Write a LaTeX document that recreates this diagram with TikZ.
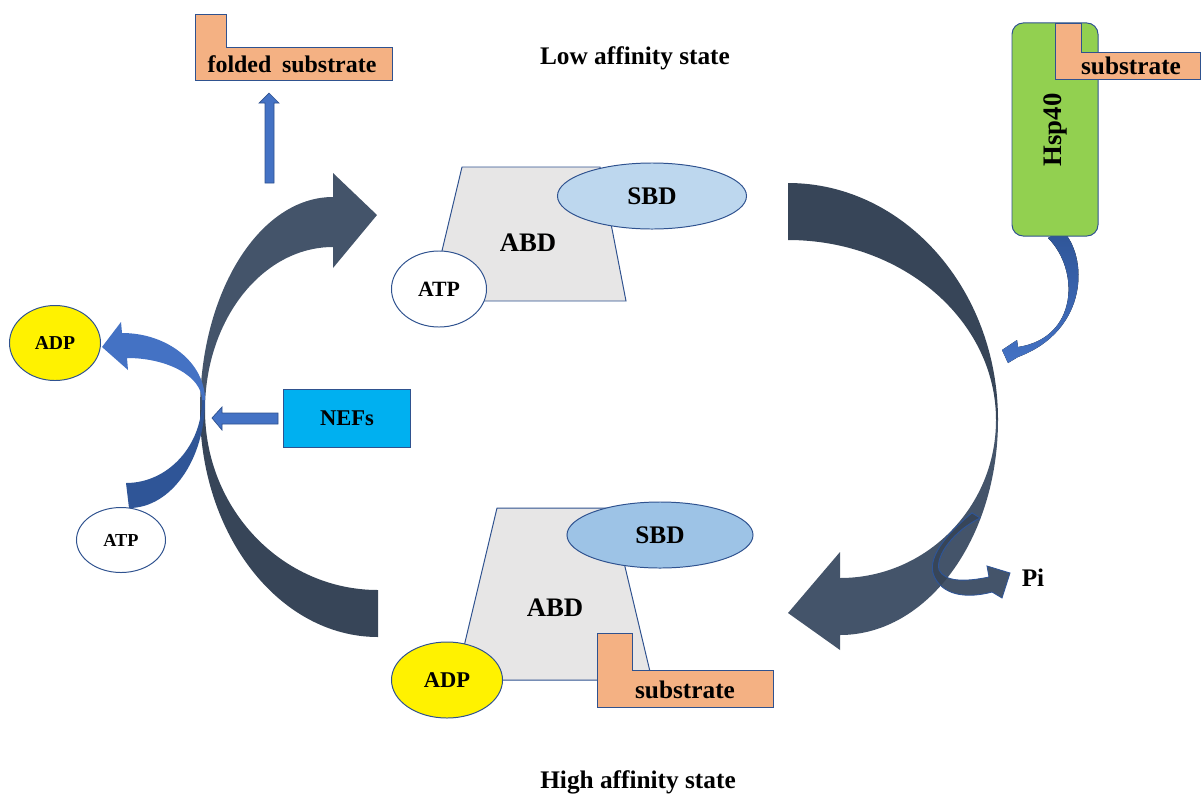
\documentclass[tikz,border=0pt]{standalone}
\usepackage{fontspec}
\setmainfont{Liberation Serif}
\usetikzlibrary{shapes.geometric}
\definecolor{slateA}{HTML}{44546A}
\definecolor{slateB}{HTML}{374558}
\definecolor{blueA}{HTML}{4472C4}
\definecolor{blueB}{HTML}{2F5597}
\definecolor{lineblue}{HTML}{2F528F}
\definecolor{substr}{HTML}{F4B183}
\definecolor{hspgreen}{HTML}{92D050}
\definecolor{nefcyan}{HTML}{00B0F0}
\definecolor{abdgray}{HTML}{E7E6E6}
\definecolor{sbdlow}{HTML}{BDD7EE}
\definecolor{sbdhigh}{HTML}{9DC3E6}

\begin{document}
\begin{tikzpicture}[x=0.025cm,y=-0.025cm,
  lbl/.style={font=\bfseries\fontsize{#1}{#1}\selectfont},
  lbl/.default=18,
  blob/.style={draw=lineblue,line width=0.7pt},
  oval/.style={blob,ellipse,inner sep=0pt}]
\useasboundingbox (0,0) rectangle (1203,797);
% big cycle arrows
\fill[slateB] (788,183) arc (270:360:210 and 237) -- (996,420) arc (0:-90:208 and 180) -- cycle;
\fill[slateA] (998,420) arc (0:90:158 and 215) -- (840,650) -- (788,613) -- (840,552) -- (840,578) arc (90:0:156 and 158) -- cycle;
\fill[slateB] (378,637) arc (90:180:178 and 227) -- (205,410) arc (180:90:173 and 180) -- cycle;
\fill[slateA] (200,410) arc (180:270:133 and 213) -- (333,173) -- (377,215) -- (333,268) -- (333,247) arc (270:180:128 and 163) -- cycle;
% nucleotide exchange arrow
\fill[blueB] (129,508) arc (90:0:76 and 108) -- (202,400) arc (0:90:76 and 83) -- cycle;
\fill[blueA] (205,400) arc (0:-90:83 and 67) -- (121,322) -- (102,347) -- (128,370) -- (127,358) arc (-90:0:75 and 42) -- cycle;
% Hsp40 arrow
\fill[top color=blueB,bottom color=blueA] (1062,230) .. controls (1088,255) and (1090,330) .. (1018,357) -- (1008,363) -- (1002,350) -- (1017,340) -- (1018,347) .. controls (1078,338) and (1080,270) .. (1048,238) -- cycle;
% Pi release
\filldraw[fill=slateA,draw=blueB,line width=0.6pt] (972,513) .. controls (945,535) and (925,560) .. (935,578) .. controls (945,597) and (970,598) .. (992,592) -- (1002,598) -- (1010,573) -- (987,566) -- (989,577) .. controls (965,582) and (945,582) .. (939,570) .. controls (935,555) and (955,530) .. (980,518) -- cycle;
\begin{scope}
\clip (998,420) arc (0:90:158 and 215) -- (840,578) arc (90:0:156 and 158) -- cycle;
\filldraw[fill=slateB,draw=blueB,line width=0.6pt] (972,513) .. controls (945,535) and (925,560) .. (935,578) .. controls (945,597) and (970,598) .. (992,592) -- (1002,598) -- (1010,573) -- (987,566) -- (989,577) .. controls (965,582) and (945,582) .. (939,570) .. controls (935,555) and (955,530) .. (980,518) -- cycle;
\end{scope}
\node[lbl] (pi) at (1033,578) {Pi};
% low affinity state
\node[lbl] (lowlbl) at (635,58) {Low affinity state};
\draw[blob,fill=abdgray] (462,167) -- (600,167) -- (626,301) -- (430,301) -- cycle;
\node[lbl=19] (lowABD) at (528,243) {ABD};
\node[oval,fill=sbdlow,minimum width=4.725cm,minimum height=1.65cm,lbl] (lowSBD) at (652,196) {SBD};
\node[oval,fill=white,minimum width=2.375cm,minimum height=1.9cm,lbl=15.5] (lowATP) at (439,289) {ATP};
% high affinity state
\node[lbl] (highlbl) at (638,782) {High affinity state};
\draw[blob,fill=abdgray] (497,508) -- (611,508) -- (652,680) -- (456,680) -- cycle;
\node[lbl=19] (highABD) at (555,608) {ABD};
\node[oval,fill=sbdhigh,minimum width=4.65cm,minimum height=1.65cm,lbl] (highSBD) at (660,535) {SBD};
\draw[blob,fill=substr] (597,633) -- (632,633) -- (632,670) -- (773,670) -- (773,707) -- (597,707) -- cycle;
\node[lbl] (highsub) at (685,690) {substrate};
\node[oval,fill=yellow,minimum width=2.775cm,minimum height=1.9cm,lbl=16] (highADP) at (447,680) {ADP};
% nucleotide exchange
\node[oval,fill=yellow,minimum width=2.275cm,minimum height=1.875cm,lbl=14] (freeADP) at (55,343) {ADP};
\node[oval,fill=white,minimum width=2.225cm,minimum height=1.625cm,lbl=13] (freeATP) at (121,540) {ATP};
\node[blob,fill=nefcyan,minimum width=3.15cm,minimum height=1.45cm,lbl=16] (nefs) at (347,418) {NEFs};
\filldraw[fill=blueA,draw=lineblue,line width=0.5pt] (278,413) -- (222,413) -- (222,407) -- (212,418) -- (222,430) -- (222,424) -- (278,424) -- cycle;
% folded substrate released
\draw[blob,fill=substr] (195,14) -- (226,14) -- (226,47) -- (392,47) -- (392,80) -- (195,80) -- cycle;
\node[lbl=17] (foldsub) at (292,64) {folded\hspace{0.45em}substrate};
\filldraw[fill=blueA,draw=lineblue,line width=0.5pt] (265,183) -- (265,103) -- (259,103) -- (269,93) -- (279,103) -- (274,103) -- (274,183) -- cycle;
% Hsp40 with substrate
\node[blob,fill=hspgreen,rounded corners=8pt,minimum width=2.15cm,minimum height=5.325cm] (hsp) at (1055,129.5) {};
\draw[blob,fill=substr] (1055,23) -- (1081,23) -- (1081,52) -- (1200,52) -- (1200,79) -- (1055,79) -- cycle;
\node[lbl] (hspsub) at (1131,66) {substrate};
\node[lbl=19,rotate=90] (hsplbl) at (1055,130) {Hsp40};
\end{tikzpicture}
\end{document}
